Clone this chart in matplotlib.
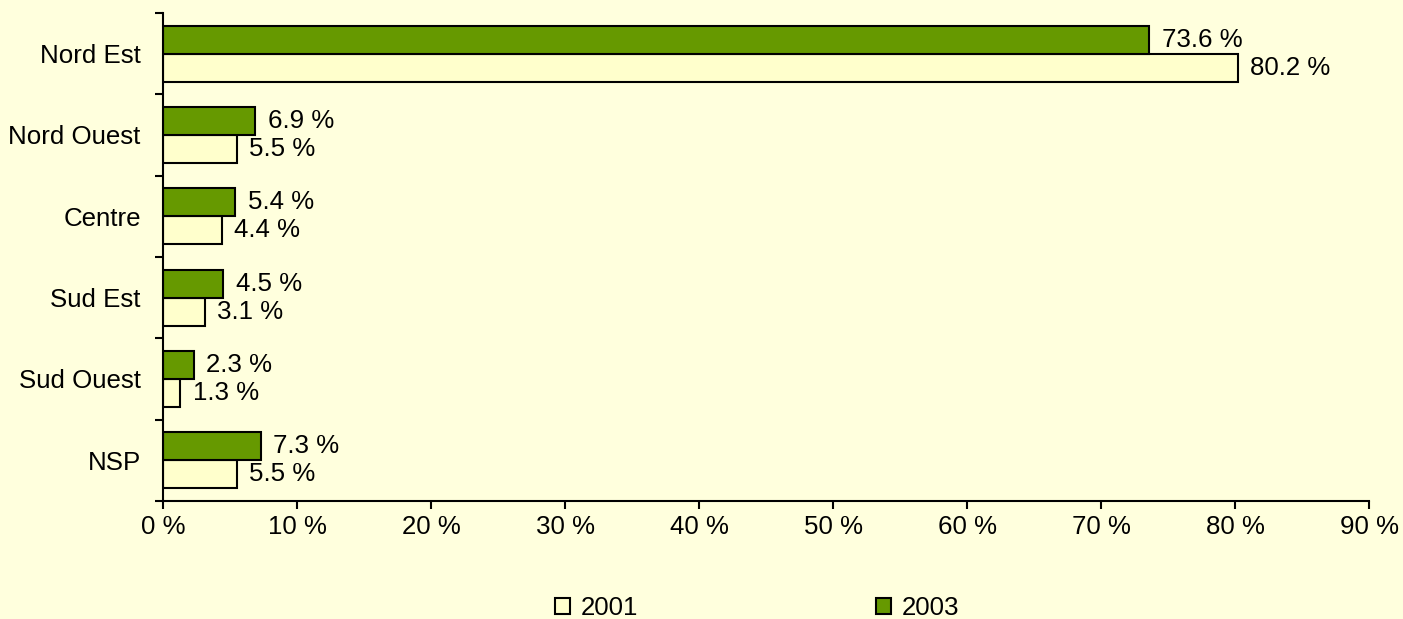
import numpy as np
import matplotlib
matplotlib.use('Agg')
import matplotlib.pyplot as plt
from matplotlib.patches import Patch

plt.rcParams['font.family'] = ['Liberation Sans', 'DejaVu Sans']

categories = ['Nord Est', 'Nord Ouest', 'Centre', 'Sud Est', 'Sud Ouest', 'NSP']
values_2001 = [80.2, 5.5, 4.4, 3.1, 1.3, 5.5]
values_2003 = [73.6, 6.9, 5.4, 4.5, 2.3, 7.3]
xticks = [0, 10, 20, 30, 40, 50, 60, 70, 80, 90]

bg = '#FFFFDD'
col_2001 = '#FFFFCC'
col_2003 = '#669900'
fs = 18.6

fig = plt.figure(figsize=(14.03, 6.19), dpi=100, facecolor=bg)
ax = fig.add_axes([163/1403, 1 - 501/619, (1369 - 163)/1403, (501 - 13)/619])
ax.set_facecolor(bg)

n = len(categories)
y = np.arange(n)[::-1].astype(float)
h = 0.345

b1 = ax.barh(y - h/2, values_2001, height=h, color=col_2001, edgecolor='black', linewidth=1.5)
b2 = ax.barh(y + h/2, values_2003, height=h, color=col_2003, edgecolor='black', linewidth=1.5)

for bars, vals in [(b1, values_2001), (b2, values_2003)]:
    for bar, v in zip(bars, vals):
        ax.annotate(f'{v:.1f} %', xy=(v, bar.get_y() + bar.get_height()/2),
                    xytext=(9, 0), textcoords='offset points',
                    ha='left', va='center', fontsize=fs)

ax.set_xlim(0, 90)
ax.set_ylim(-0.5, n - 0.5)
ax.set_xticks(xticks)
ax.set_xticklabels([f'{t} %' for t in xticks], fontsize=fs)
ax.set_yticks(y)
ax.set_yticklabels(categories, fontsize=fs)
ax.set_yticks(np.arange(n + 1) - 0.5, minor=True)
ax.tick_params(axis='y', which='major', length=0, pad=16)
ax.tick_params(axis='y', which='minor', length=6, width=1.5, direction='out')
ax.tick_params(axis='x', which='major', length=6, width=1.5, direction='out', pad=4)

for s in ['top', 'right']:
    ax.spines[s].set_visible(False)
for s in ['left', 'bottom']:
    ax.spines[s].set_linewidth(1.5)

handles = [Patch(facecolor=col_2001, edgecolor='black', linewidth=1.5, label='2001'),
           Patch(facecolor=col_2003, edgecolor='black', linewidth=1.5, label='2003')]
fig.legend(handles=handles, loc='center', bbox_to_anchor=(757/1403, 1 - 608/619),
           ncol=2, frameon=False, fontsize=fs, handlelength=0.6, handleheight=0.6,
           handletextpad=0.4, columnspacing=9.2, borderaxespad=0, borderpad=0)

fig.savefig('out.png', dpi=100, facecolor=bg)
